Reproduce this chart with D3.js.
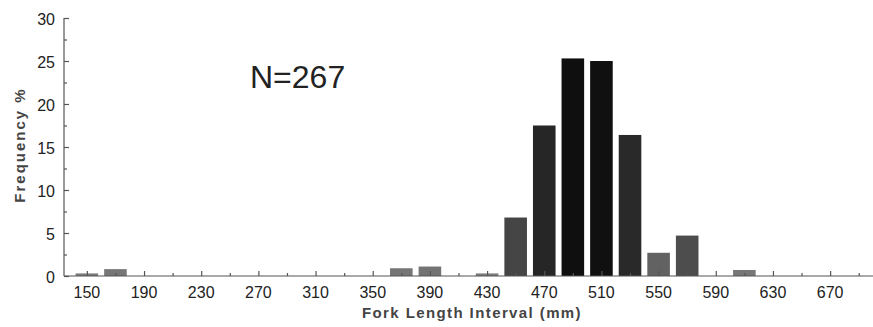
<!DOCTYPE html>
<html>
<head>
<meta charset="utf-8">
<script src="https://cdn.jsdelivr.net/npm/d3@7"></script>
<style>
  body { margin: 0; background: #fff; }
  text { font-family: "Liberation Sans", Arial, sans-serif; fill: #222; }
</style>
</head>
<body>
<div id="canvas"></div>
<script>
// fork length interval midpoints (mm) and frequency %
var lengths = [150, 170, 190, 210, 230, 250, 270, 290, 310, 330, 350, 370, 390, 410,
  430, 450, 470, 490, 510, 530, 550, 570, 590, 610, 630, 650, 670, 690];
var freq = [0.3, 0.8, 0, 0, 0, 0, 0, 0, 0, 0, 0, 0.9, 1.1, 0,
  0.3, 6.8, 17.5, 25.3, 25.0, 16.4, 2.7, 4.7, 0, 0.7, 0, 0, 0, 0];
var xTickLabels = [150, 190, 230, 270, 310, 350, 390, 430, 470, 510, 550, 590, 630, 670];
var xMinorTicks = [170, 210, 250, 290, 330, 370, 410, 450, 490, 530, 570, 610, 650, 690];
var yTicks = [0, 5, 10, 15, 20, 25, 30];
var yMinorTicks = [2.5, 7.5, 12.5, 17.5, 22.5, 27.5];
var sampleLabel = "N=267";

var width = 873,
  height = 327;

var svg = d3
  .select("#canvas")
  .append("svg")
  .attr("width", width)
  .attr("height", height);

var x = d3.scaleLinear().domain([134, 700]).range([64, 873]);
var y = d3.scaleLinear().domain([0, 30]).range([276, 18]);
var shade = d3
  .scaleLinear()
  .domain([0, 5, 25])
  .range(["#7e7e7e", "#4a4a4a", "#101010"]);

var barW = (x(170) - x(150)) * 0.79;

svg
  .append("g")
  .selectAll("rect")
  .data(lengths)
  .enter()
  .append("rect")
  .attr("x", function(d) {
    return x(d) - barW / 2;
  })
  .attr("width", barW)
  .attr("y", function(d, i) {
    return y(freq[i]);
  })
  .attr("height", function(d, i) {
    return y(0) - y(freq[i]);
  })
  .style("fill", function(d, i) {
    return shade(freq[i]);
  });

// axes, ticks pointing inward
var xAxis = svg
  .append("g")
  .attr("transform", "translate(0," + y(0) + ")")
  .call(
    d3
      .axisTop(x)
      .tickValues(xTickLabels)
      .tickSize(5)
      .tickFormat("")
  );
xAxis.select(".domain").attr("d", "M64,0H873");

svg
  .append("g")
  .attr("transform", "translate(0," + y(0) + ")")
  .call(
    d3
      .axisTop(x)
      .tickValues(xMinorTicks)
      .tickSize(3)
      .tickFormat("")
  )
  .select(".domain")
  .remove();

svg
  .append("g")
  .selectAll("text")
  .data(xTickLabels)
  .enter()
  .append("text")
  .attr("x", function(d) {
    return x(d);
  })
  .attr("y", 298)
  .attr("text-anchor", "middle")
  .style("font-size", "16px")
  .text(function(d) {
    return d;
  });

svg
  .append("g")
  .attr("transform", "translate(64,0)")
  .call(
    d3
      .axisRight(y)
      .tickValues(yTicks)
      .tickSize(5)
      .tickFormat("")
  )
  .select(".domain")
  .attr("d", "M0," + y(30) + "V" + y(0));

svg
  .append("g")
  .attr("transform", "translate(64,0)")
  .call(
    d3
      .axisRight(y)
      .tickValues(yMinorTicks)
      .tickSize(3)
      .tickFormat("")
  )
  .select(".domain")
  .remove();

svg
  .append("g")
  .selectAll("text")
  .data(yTicks)
  .enter()
  .append("text")
  .attr("x", 55)
  .attr("y", function(d) {
    return y(d) + 6.5;
  })
  .attr("text-anchor", "end")
  .style("font-size", "16px")
  .text(function(d) {
    return d;
  });

svg.selectAll(".domain, .tick line").style("stroke", "#555").style("stroke-width", 1.2);

svg
  .append("text")
  .attr("x", 472)
  .attr("y", 318)
  .attr("text-anchor", "middle")
  .style("font-size", "15px")
  .style("font-weight", "bold")
  .style("letter-spacing", "1.4px")
  .style("fill", "#444")
  .text("Fork Length Interval (mm)");

svg
  .append("text")
  .attr("transform", "translate(25,145) rotate(-90)")
  .attr("text-anchor", "middle")
  .style("font-size", "15px")
  .style("font-weight", "bold")
  .style("letter-spacing", "2px")
  .style("fill", "#444")
  .text("Frequency %");

svg
  .append("text")
  .attr("x", 250)
  .attr("y", 88)
  .style("font-size", "32px")
  .text(sampleLabel);
</script>
</body>
</html>
